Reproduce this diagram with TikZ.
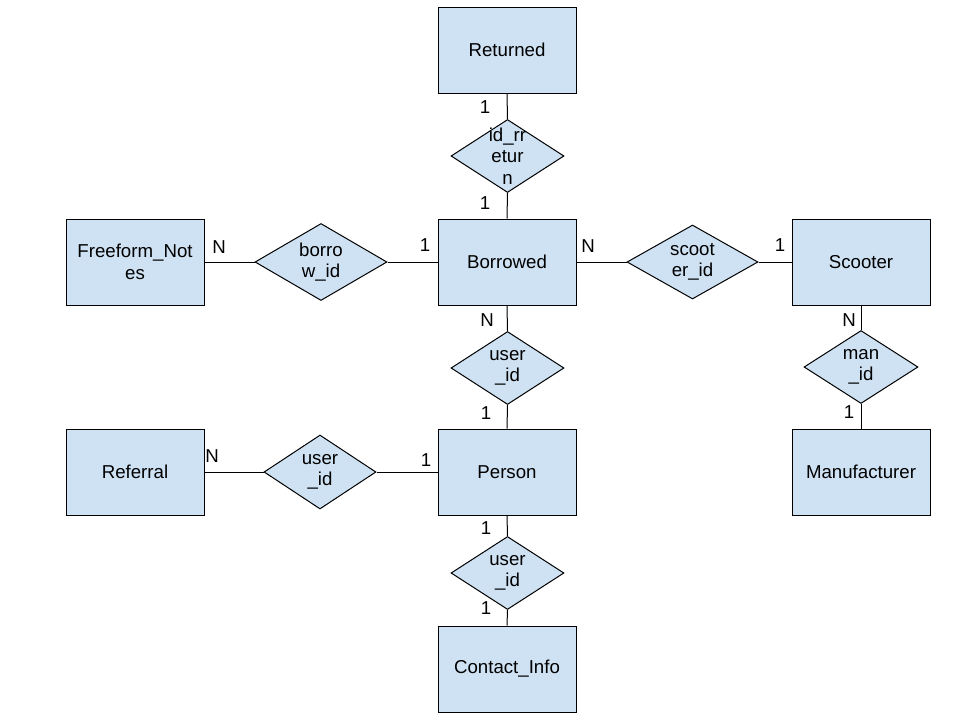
\documentclass[tikz,border=0pt]{standalone}
\usepackage{fontspec}
\setmainfont{Liberation Sans}
\usetikzlibrary{shapes.geometric}
\definecolor{boxfill}{RGB}{207,226,243}
\tikzset{
  every node/.style={font=\fontsize{18.67}{21.5}\selectfont, text=black},
  entity/.style={draw=black, line width=1pt, fill=boxfill, rectangle, minimum width=138pt, minimum height=86pt, inner sep=0pt, align=center},
  rel/.style={draw=black, line width=1pt, fill=boxfill, diamond, inner sep=0pt},
  card/.style={inner sep=0pt},
  conn/.style={draw=black, line width=1pt}
}
\begin{document}
\begin{tikzpicture}[x=1pt,y=-1pt]
\useasboundingbox (0,0) rectangle (960,720);
% entities
\node[entity] (ret) at (507,50) {Returned};
\node[entity] (bor) at (507,262) {Borrowed};
\node[entity] (ff) at (135,262) {Freeform\_Not\\es};
\node[entity] (sco) at (861,262) {Scooter};
\node[entity] (man) at (861,472) {Manufacturer};
\node[entity] (per) at (507,472) {Person};
\node[entity] (ref) at (135,472) {Referral};
\node[entity] (con) at (507,669) {Contact\_Info};
% relationships
\node[rel, minimum width=113pt, minimum height=73pt, label={[align=center]center:id\_rr\\etur\\n}] (d1) at (507.5,156) {};
\node[rel, minimum width=132pt, minimum height=77pt, label={[align=center]center:borro\\w\_id}] (d2) at (321,262) {};
\node[rel, minimum width=131pt, minimum height=74pt, label={[align=center]center:scoot\\er\_id}] (d3) at (692.5,262) {};
\node[rel, minimum width=113pt, minimum height=73pt, label={[align=center]center:user\\\_id}] (d4) at (507.5,368) {};
\node[rel, minimum width=114pt, minimum height=73pt, label={[align=center]center:man\\\_id}] (d5) at (861,367) {};
\node[rel, minimum width=112pt, minimum height=74pt, label={[align=center]center:user\\\_id}] (d6) at (320,472) {};
\node[rel, minimum width=113pt, minimum height=73pt, label={[align=center]center:user\\\_id}] (d7) at (507.5,573) {};
% connectors
\draw[conn] (ret.south) -- (d1.north);
\draw[conn] (d1.south) -- (bor.north);
\draw[conn] (ff.east) -- (d2.west);
\draw[conn] (d2.east) -- (bor.west);
\draw[conn] (bor.east) -- (d3.west);
\draw[conn] (d3.east) -- (sco.west);
\draw[conn] (bor.south) -- (d4.north);
\draw[conn] (d4.south) -- (per.north);
\draw[conn] (sco.south) -- (d5.north);
\draw[conn] (d5.south) -- (man.north);
\draw[conn] (ref.east) -- (d6.west);
\draw[conn] (d6.east) -- (per.west);
\draw[conn] (per.south) -- (d7.north);
\draw[conn] (d7.south) -- (con.north);
% cardinalities
\node[card] (c1) at (485,107) {1};
\node[card] (c2) at (485,203) {1};
\node[card] (c3) at (219,247) {N};
\node[card] (c4) at (425,245) {1};
\node[card] (c5) at (588,246) {N};
\node[card] (c6) at (780,245) {1};
\node[card] (c7) at (487,320) {N};
\node[card] (c8) at (486,413) {1};
\node[card] (c9) at (849,320) {N};
\node[card] (c10) at (849,412) {1};
\node[card] (c11) at (212,456) {N};
\node[card] (c12) at (426,460) {1};
\node[card] (c13) at (486,528) {1};
\node[card] (c14) at (486,608) {1};
\end{tikzpicture}
\end{document}
